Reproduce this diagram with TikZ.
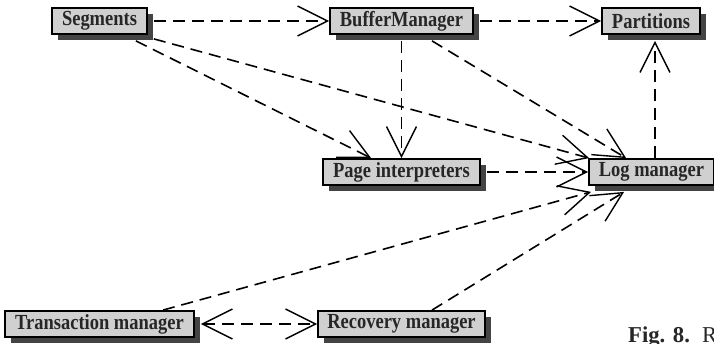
\documentclass[tikz,border=0pt]{standalone}
\usepackage{fontspec}
\setmainfont{Liberation Serif}
\newfontfamily\modulefont[FakeStretch=0.86]{Liberation Serif}
\usetikzlibrary{arrows.meta,shadows}
\definecolor{boxgray}{HTML}{D0D0D0}
\definecolor{shadowgray}{HTML}{444444}
\begin{document}
\begin{tikzpicture}[x=1pt,y=-1pt,
  module/.style={draw=black,line width=1.8pt,fill=boxgray,text=black!85,
    font={\modulefont\bfseries\fontsize{21.5}{23}\selectfont},inner sep=0pt,minimum height=26pt,
    drop shadow={shadow xshift=6pt,shadow yshift=-6pt,fill=shadowgray,opacity=1,draw=none}},
  dep/.style={line width=1.6pt,dash pattern=on 12pt off 7pt,
    -{Straight Barb[length=30pt,width=30pt,line width=1.4pt]}},
  bidep/.style={dep,{Straight Barb[length=30pt,width=30pt,line width=1.4pt]}-{Straight Barb[length=30pt,width=30pt,line width=1.4pt]}},
  caption/.style={anchor=base west,inner sep=0pt,text=black!85,font=\fontsize{22.7}{24}\selectfont}
 ]
\useasboundingbox (0,0) rectangle (714,344);

% modules
\node[module,minimum width=95pt]  (seg)  at (99.5,21)  {Segments};
\node[module,minimum width=143pt] (buf)  at (401.5,21) {BufferManager};
\node[module,minimum width=98pt]  (part) at (651,21)   {Partitions};
\node[module,minimum width=157pt] (pint) at (401.5,172) {Page interpreters};
\node[module,minimum width=125pt] (log)  at (651.5,172) {Log manager};
\node[module,minimum width=189pt] (tm)   at (99.5,324)  {Transaction manager};
\node[module,minimum width=167pt] (rm)   at (401.5,324) {Recovery manager};

% dependencies
\draw[dep] ([xshift=6pt]seg.east) -- (buf.west);
\draw[dep] ([xshift=6pt]buf.east) -- (part.west);
\draw[dep] ([xshift=-12pt,yshift=-6pt]seg.south east) -- ([xshift=49pt]pint.north west);
\draw[dep] ([xshift=6pt,yshift=-4pt]seg.south east) -- ([xshift=1pt]log.north west);
\draw[dep] ([xshift=30.5pt,yshift=-6pt]buf.south) -- ([xshift=38pt]log.north west);
\draw[dep] ([yshift=-6pt]buf.south) -- (pint.north);
\draw[dep] ([xshift=6pt]pint.east) -- (log.west);
\draw[dep] ([xshift=3.5pt]log.north) -- ([xshift=4pt,yshift=-6pt]part.south);
\draw[dep] ([xshift=63.5pt]tm.north) -- ([xshift=3pt,yshift=-6pt]log.south west);
\draw[dep] ([xshift=30.5pt]rm.north) -- ([xshift=36pt,yshift=-6pt]log.south west);
\draw[bidep] ([xshift=6pt]tm.east) -- (rm.west);

% caption
\node[caption,font=\fontsize{22.7}{24}\selectfont\bfseries] (figno) at (628,342) {Fig. 8.};
\node[caption] (figtext) at (702,342) {R};
\end{tikzpicture}
\end{document}
